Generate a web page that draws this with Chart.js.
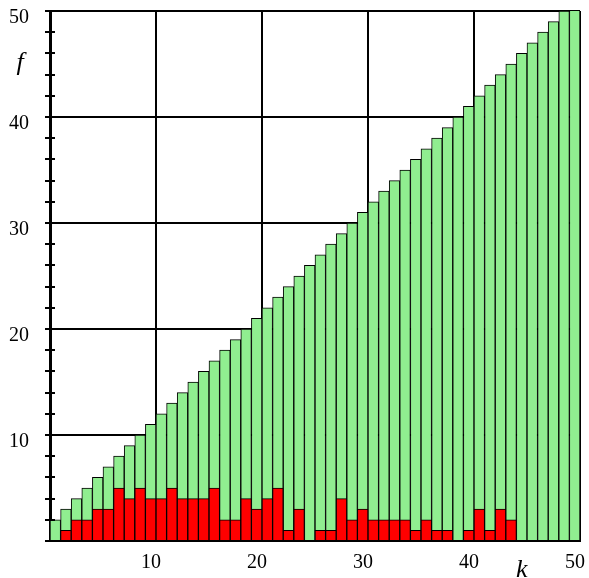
<!DOCTYPE html>
<html>
<head>
<meta charset="utf-8">
<script src="https://cdn.jsdelivr.net/npm/chart.js@4/dist/chart.umd.min.js"></script>
<style>
  html, body { margin: 0; padding: 0; background: #fff; }
  canvas { display: block; }
</style>
</head>
<body>
<canvas id="chart" width="589" height="578"></canvas>
<script>
// k = 1..50; each bar covers the interval [k-1, k]
const kValues = [1, 2, 3, 4, 5, 6, 7, 8, 9, 10,
                 11, 12, 13, 14, 15, 16, 17, 18, 19, 20,
                 21, 22, 23, 24, 25, 26, 27, 28, 29, 30,
                 31, 32, 33, 34, 35, 36, 37, 38, 39, 40,
                 41, 42, 43, 44, 45, 46, 47, 48, 49, 50];

// total f for each k (green)
const totalF = [2, 3, 4, 5, 6, 7, 8, 9, 10, 11,
                12, 13, 14, 15, 16, 17, 18, 19, 20, 21,
                22, 23, 24, 25, 26, 27, 28, 29, 30, 31,
                32, 33, 34, 35, 36, 37, 38, 39, 40, 41,
                42, 43, 44, 45, 46, 47, 48, 49, 50, 51];

// part of f shown in red
const redF = [0, 1, 2, 2, 3, 3, 5, 4, 5, 4,
              4, 5, 4, 4, 4, 5, 2, 2, 4, 3,
              4, 5, 1, 3, 0, 1, 1, 4, 2, 3,
              2, 2, 2, 2, 1, 2, 1, 1, 0, 1,
              3, 1, 3, 2, 0, 0, 0, 0, 0, 0];

const xTickLabels = [10, 20, 30, 40, 50];
const yTickLabels = [10, 20, 30, 40, 50];

const SERIF = '"Liberation Serif", "Times New Roman", serif';

// minor tick marks crossing the f axis, plus the italic axis letters
const axisDecor = {
  id: 'axisDecor',
  afterDraw(chart) {
    const { ctx, scales: { x, y } } = chart;
    ctx.save();
    ctx.strokeStyle = '#000';
    ctx.lineWidth = 2;
    y.ticks.forEach(t => {
      const py = Math.round(y.getPixelForValue(t.value));
      ctx.beginPath();
      ctx.moveTo(x.left - 5, py);
      ctx.lineTo(x.left + 5, py);
      ctx.stroke();
    });
    ctx.fillStyle = '#000';
    ctx.font = 'italic 26px ' + SERIF;
    ctx.textAlign = 'center';
    ctx.textBaseline = 'alphabetic';
    ctx.fillText('f', x.left - 30, 70);
    ctx.fillText('k', x.getPixelForValue(44.5), y.bottom + 36);
    ctx.restore();
  }
};

const toPoints = vals => kValues.map((k, i) => ({ x: k - 0.5, y: vals[i] }));

new Chart(document.getElementById('chart'), {
  type: 'bar',
  data: {
    datasets: [
      {
        label: 'red',
        data: toPoints(redF),
        backgroundColor: '#ff0000',
        borderColor: '#000',
        borderWidth: 1,
        grouped: false,
        barPercentage: 1,
        categoryPercentage: 1,
        order: 0
      },
      {
        label: 'f',
        data: toPoints(totalF),
        backgroundColor: '#90ee90',
        borderColor: '#000',
        borderWidth: 1,
        grouped: false,
        barPercentage: 1,
        categoryPercentage: 1,
        order: 1
      }
    ]
  },
  options: {
    responsive: false,
    animation: false,
    layout: { padding: { top: 11, right: 9, left: 0, bottom: 0 } },
    plugins: {
      legend: { display: false },
      tooltip: { enabled: false }
    },
    scales: {
      x: {
        type: 'linear',
        min: 0,
        max: 50,
        offset: false,
        z: 1,
        ticks: {
          stepSize: 10,
          autoSkip: false,
          maxRotation: 0,
          callback: v => xTickLabels.includes(v) ? String(v) : '',
          font: { family: SERIF, size: 20 },
          color: '#000',
          padding: 10,
          labelOffset: -5
        },
        grid: { offset: false, color: '#000', lineWidth: 2, drawTicks: false },
        border: { color: '#000', width: 2 },
        afterFit(s) { s.height = 37; s.paddingLeft = 0; s.paddingRight = 0; }
      },
      y: {
        type: 'linear',
        min: 0,
        max: 50,
        z: 1,
        ticks: {
          stepSize: 2,
          autoSkip: false,
          callback: v => yTickLabels.includes(v) ? String(v) : '',
          font: { family: SERIF, size: 20 },
          color: '#000',
          padding: 21,
          labelOffset: 7
        },
        grid: {
          color: c => (c.tick && c.tick.value % 10 === 0) ? '#000' : 'rgba(0,0,0,0)',
          lineWidth: 2,
          drawTicks: false
        },
        border: { color: '#000', width: 3 },
        afterFit(s) { s.width = 50; s.paddingTop = 0; s.paddingBottom = 0; }
      }
    }
  },
  plugins: [axisDecor]
});
</script>
</body>
</html>
